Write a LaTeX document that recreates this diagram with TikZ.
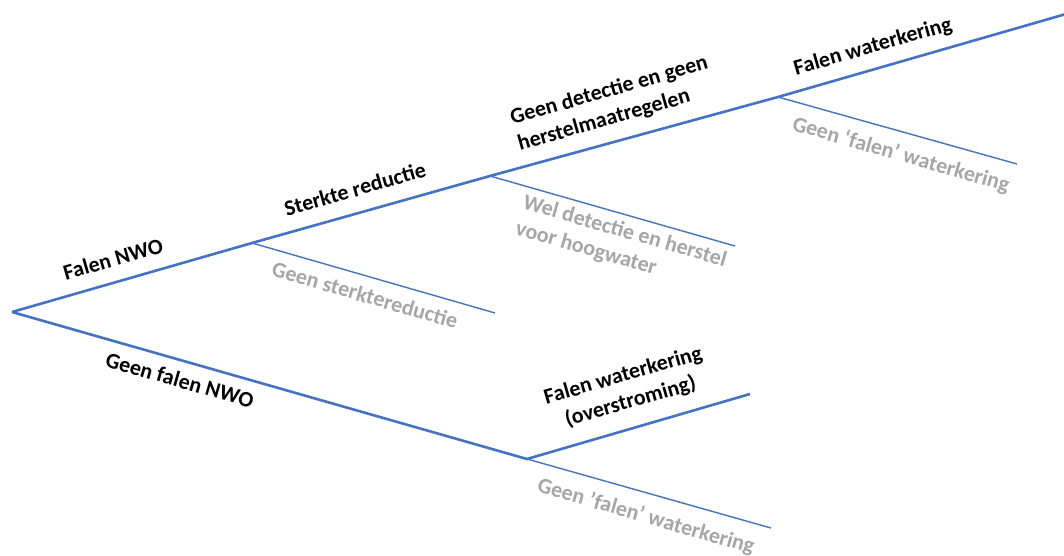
\documentclass[tikz,border=0pt]{standalone}
\usepackage{fontspec}
\setmainfont{Carlito}
\begin{document}
\begin{tikzpicture}[x=1pt,y=-1pt,
  trunk/.style={draw=treeblue,line width=2.6pt},
  twig/.style={draw=treeblue,line width=1.4pt},
  lbl/.style={font=\fontsize{22}{27}\selectfont\bfseries,inner sep=0pt},
  yes/.style={lbl,text=black,rotate=16},
  yesdown/.style={lbl,text=black,rotate=-16},
  no/.style={lbl,text=nogray,rotate=-16}]
\definecolor{treeblue}{RGB}{68,114,196}
\definecolor{nogray}{RGB}{166,166,166}
\useasboundingbox (0,0) rectangle (1064,556);
% branch points of the event tree
\coordinate (root) at (12,312);
\coordinate (a) at (252,243);
\coordinate (b) at (490,176);
\coordinate (c) at (778,97);
\coordinate (top) at (1066,14);
\coordinate (a2) at (495,313);
\coordinate (b2) at (735,246);
\coordinate (c2) at (1017,164);
\coordinate (d) at (527,459);
\coordinate (d1) at (750,394);
\coordinate (d2) at (771,528);
% upper path: failure at every step
\draw[trunk] (root) -- (a) -- (b) -- (c) -- (top);
\draw[twig] (a) -- (a2);
\draw[twig] (b) -- (b2);
\draw[twig] (c) -- (c2);
% lower path
\draw[trunk,line join=round] (root) -- (d) -- (d1);
\draw[twig] (d) -- (d2);
% labels
\node[yes] (l1) at (113,259) {Falen NWO};
\node[yes] (l2) at (355,189) {Sterkte reductie};
\node[yes,align=left] (l3) at (613,104) {Geen detectie en geen\\herstelmaatregelen};
\node[yes] (l4) at (873,47) {Falen waterkering};
\node[no] (l5) at (365,295) {Geen sterktereductie};
\node[no,align=left] (l6) at (621,245) {Wel detectie en herstel\\voor hoogwater};
\node[no] (l7) at (901,155) {Geen ‘falen’ waterkering};
\node[yesdown] (l8) at (180,380) {Geen falen NWO};
\node[yes,align=center] (l9) at (627,389) {Falen waterkering\\(overstroming)};
\node[no] (l10) at (646,517) {Geen 'falen' waterkering};
\end{tikzpicture}
\end{document}
